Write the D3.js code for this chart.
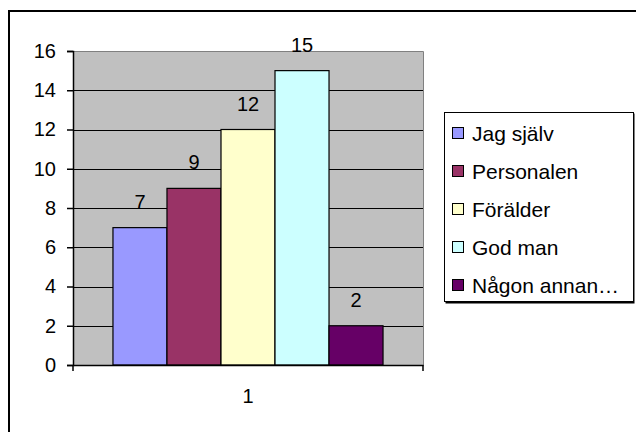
<!DOCTYPE html>
<html>
<head>
<meta charset="utf-8">
<script src="https://cdn.jsdelivr.net/npm/d3@7"></script>
<style>
  html, body { margin: 0; padding: 0; background: #fff; }
  svg { display: block; font-family: "Liberation Sans", Arial, sans-serif; }
</style>
</head>
<body>
<div id="chart"></div>
<script>
const categories = ["1"];
const seriesNames = ["Jag själv", "Personalen", "Förälder", "God man", "Någon annan…"];
const seriesValues = [7, 9, 12, 15, 2];
const seriesColours = ["#9999FF", "#993366", "#FFFFCC", "#CCFFFF", "#660066"];
const yTicks = [0, 2, 4, 6, 8, 10, 12, 14, 16];

const width = 636, height = 432;
const plot = { left: 73, top: 51, right: 423, bottom: 365 };

const svg = d3.select("#chart")
  .append("svg")
  .attr("width", width)
  .attr("height", height);

// outer frame (runs off the right and bottom edges)
svg.append("rect")
  .attr("x", 9).attr("y", 11)
  .attr("width", 640).attr("height", 440)
  .attr("fill", "#fff")
  .attr("stroke", "#000")
  .attr("stroke-width", 2);

const x0 = d3.scaleBand()
  .domain(categories)
  .range([plot.left, plot.right]);

const x1 = d3.scaleBand()
  .domain(seriesNames)
  .range([0, x0.bandwidth()])
  .paddingInner(0)
  .paddingOuter(0.74);

const y = d3.scaleLinear()
  .domain([0, 16])
  .range([plot.bottom, plot.top]);

// plot background
svg.append("rect")
  .attr("x", plot.left).attr("y", plot.top)
  .attr("width", plot.right - plot.left)
  .attr("height", plot.bottom - plot.top)
  .attr("fill", "#C0C0C0");

// gridlines
svg.append("g")
  .selectAll("line")
  .data(yTicks.filter((d) => d > 0 && d < 16))
  .join("line")
  .attr("x1", plot.left).attr("x2", plot.right)
  .attr("y1", (d) => Math.round(y(d)) + 0.5)
  .attr("y2", (d) => Math.round(y(d)) + 0.5)
  .attr("stroke", "#000")
  .attr("stroke-width", 1);

// plot border top / right
svg.append("path")
  .attr("d", `M${plot.left},${plot.top + 0.5}H${plot.right + 0.5}V${plot.bottom}`)
  .attr("fill", "none")
  .attr("stroke", "#808080")
  .attr("stroke-width", 1);

const data = seriesNames.map((name, i) => ({ name, value: seriesValues[i], cat: categories[0] }));

const bars = svg.append("g");
bars.selectAll("rect")
  .data(data)
  .join("rect")
  .attr("x", (d) => x0(d.cat) + x1(d.name))
  .attr("y", (d) => y(d.value))
  .attr("width", x1.bandwidth())
  .attr("height", (d) => y(0) - y(d.value))
  .attr("fill", (d, i) => seriesColours[i])
  .attr("stroke", "#000")
  .attr("stroke-width", 1.2);

bars.selectAll("text")
  .data(data)
  .join("text")
  .attr("x", (d) => x0(d.cat) + x1(d.name) + x1.bandwidth() / 2)
  .attr("y", (d) => y(d.value) - 19)
  .attr("text-anchor", "middle")
  .style("font-size", "20px")
  .text((d) => d.value);

// y axis
const yAxis = svg.append("g")
  .attr("transform", `translate(${plot.left},0)`)
  .call(d3.axisLeft(y).tickValues(yTicks).tickSize(6).tickPadding(11));
yAxis.select(".domain").attr("stroke", "#000").attr("stroke-width", 1.5);
yAxis.selectAll(".tick line").attr("stroke", "#000").attr("stroke-width", 1.5);
yAxis.selectAll("text")
  .style("font-size", "20px")
  .style("font-family", "'Liberation Sans', Arial, sans-serif")
  .attr("fill", "#000");

// x axis
const xAxis = svg.append("g")
  .attr("transform", `translate(0,${plot.bottom})`)
  .call(d3.axisBottom(x0).tickSize(0).tickPadding(24));
xAxis.select(".domain").attr("stroke", "#000").attr("stroke-width", 1.5);
xAxis.selectAll("text")
  .style("font-size", "20px")
  .style("font-family", "'Liberation Sans', Arial, sans-serif")
  .attr("fill", "#000");
xAxis.selectAll(".edge")
  .data([plot.left, plot.right])
  .join("line")
  .attr("class", "edge")
  .attr("x1", (d) => d).attr("x2", (d) => d)
  .attr("y1", 0).attr("y2", 6)
  .attr("stroke", "#000")
  .attr("stroke-width", 1.5);

// legend
const legend = svg.append("g").attr("transform", "translate(444,112)");
legend.append("rect")
  .attr("x", 1.5).attr("y", 1.5)
  .attr("width", 189).attr("height", 190)
  .attr("fill", "#000");
legend.append("rect")
  .attr("x", 0.5).attr("y", 0.5)
  .attr("width", 189).attr("height", 189)
  .attr("fill", "#fff")
  .attr("stroke", "#000")
  .attr("stroke-width", 1);

const items = legend.selectAll(".item")
  .data(seriesNames)
  .join("g")
  .attr("class", "item")
  .attr("transform", (d, i) => `translate(0,${21 + i * 38})`);
items.append("rect")
  .attr("x", 8.5).attr("y", -5.5)
  .attr("width", 11).attr("height", 11)
  .attr("fill", (d, i) => seriesColours[i])
  .attr("stroke", "#000")
  .attr("stroke-width", 1);
items.append("text")
  .attr("x", 28).attr("y", 7.5)
  .style("font-size", "21px")
  .text((d) => d);
</script>
</body>
</html>
